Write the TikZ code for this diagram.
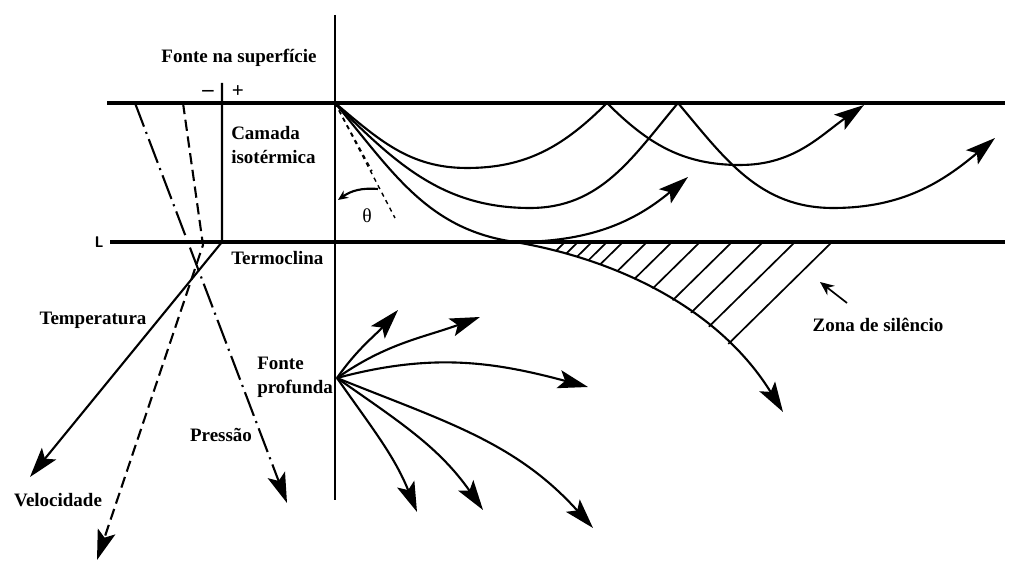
\documentclass[tikz,border=0pt]{standalone}
\usepackage{fontspec}
\setmainfont{Liberation Serif}
\usepackage{tikz}
\usetikzlibrary{arrows.meta,positioning}

\begin{document}
\begin{tikzpicture}[x=0.025cm, y=0.025cm,
  lbl/.style={font=\bfseries\fontsize{13.5}{17}\selectfont, inner sep=0pt},
  bnd/.style={line width=2.4pt},
  ray/.style={line width=1.5pt},
  ar/.style={ray, -{Stealth[length=7.5mm, width=4.6mm, inset=1.6mm]}},
  temp/.style={ar},
  pres/.style={ar, dash pattern=on 18pt off 4pt on 1.5pt off 4pt},
  vel/.style={ar, dash pattern=on 8pt off 4pt},
  hatch/.style={line width=1.2pt}
]
\useasboundingbox (0,0) rectangle (1011,563);

% axis and the two layer lines
\coordinate (axtop) at (335,548);
\coordinate (axbot) at (335,63);
\coordinate (s0) at (107,460);
\coordinate (s1) at (1005,460);
\coordinate (t0) at (110,321);
\coordinate (t1) at (1005,321);
\draw[ray] (axtop) -- (axbot);
\draw[bnd] (s0) -- (s1);
\draw[bnd] (t0) -- (t1);
\node[lbl, font=\bfseries\sffamily\fontsize{11}{13}\selectfont] (lmark) at (99,321) {L};

% profiles on the left
\coordinate (tmptop) at (222,480);
\coordinate (tmpknee) at (222,321);
\coordinate (tmptip) at (30,86);
\coordinate (prtop) at (135,460);
\coordinate (prtip) at (287,60);
\coordinate (veltop) at (183,460);
\coordinate (velknee) at (203,318);
\coordinate (veltip) at (97,3);
\draw[temp] (tmptop) -- (tmpknee) -- (tmptip);
\draw[pres] (prtop) -- (prtip);
\draw[vel] (veltop) -- (velknee) -- (veltip);
\node[lbl, font=\bfseries\fontsize{16}{18}\selectfont] (minus) at (208,470) {\textendash};
\node[lbl, font=\bfseries\fontsize{15}{18}\selectfont] (plus) at (238,471) {+};

% rays from the surface source
\coordinate (src) at (335,460);
\coordinate (a1) at (467,395);
\coordinate (a2) at (607,460);
\coordinate (a3) at (740,398);
\coordinate (a4) at (864,458);
\coordinate (b1) at (530,355);
\coordinate (b2) at (678,460);
\coordinate (b3) at (833,355);
\coordinate (b4) at (995,425);
\coordinate (c1) at (515,321);
\coordinate (c2) at (688,386);
\coordinate (c3) at (783,151);
\draw[ray] (src) to[out=-40, in=180] (a1) to[out=0, in=-135] (a2)
  to[out=-45, in=180] (a3);
\draw[ar] (a3) to[out=0, in=-145] (a4);
\draw[ray] (src) to[out=-45, in=180] (b1) to[out=0, in=-130] (b2)
  to[out=-50, in=180] (b3);
\draw[ar] (b3) to[out=0, in=-140] (b4);
\draw[ray] (src) to[out=-50, in=172] (c1);
\draw[ar] (c1) to[out=0, in=-140] (c2);
\draw[ar] (c1) .. controls (620,303) and (720,253) .. (c3);

% shadow zone
\begin{scope}
  \clip (c1) .. controls (620,303) and (720,253) .. (c3) -- (1000,151) -- (1000,321) -- cycle;
  \foreach \x in {565,578,592,607,623,647,672,700,732,763,795,832}
    \draw[hatch] (\x,321) -- ++(-120,-118);
\end{scope}
\node[lbl] (zona) at (878,238) {Zona de silêncio};
\coordinate (zfrom) at (847,260);
\coordinate (zto) at (820,281);
\draw[ray, line width=1.2pt, -{Stealth[length=3.5mm, width=3mm]}] (zfrom) -- (zto);

% angle theta
\coordinate (th1) at (395,345);
\coordinate (th2) at (372,392);
\draw[ray, line width=1pt, dashed] (src) -- (th1);
\draw[ray, line width=1pt, dashed] (src) -- (th2);
\coordinate (tha) at (378,374);
\coordinate (thb) at (338,363);
\draw[ray, -{Stealth[length=2.5mm, width=2.2mm]}] (tha) to[bend right=20] (thb);
\node[font=\fontsize{14}{16}\selectfont, inner sep=0pt] (theta) at (367,347) {θ};

% rays from the deep source
\coordinate (deep) at (337,185);
\coordinate (d1) at (398,253);
\coordinate (d2) at (480,246);
\coordinate (d3) at (588,176);
\coordinate (d4) at (417,51);
\coordinate (d5) at (483,53);
\coordinate (d6) at (593,35);
\draw[ar] (deep) to[out=55, in=-132] (d1);
\draw[ar] (deep) to[out=35, in=-160] (d2);
\draw[ar] (deep) to[out=15, in=165] (d3);
\draw[ar] (deep) to[out=-55, in=112] (d4);
\draw[ar] (deep) to[out=-35, in=125] (d5);
\draw[ar] (deep) to[out=-22, in=132] (d6);

% labels
\node[lbl] (fsup) at (239,505) {Fonte na superfície};
\node[lbl, anchor=west, align=left] (camada) at (231,418) {Camada\\isotérmica};
\node[lbl, anchor=west] (termo) at (231,305) {Termoclina};
\node[lbl] (temptxt) at (93,243) {Temperatura};
\node[lbl] (veltxt) at (58,63) {Velocidade};
\node[lbl] (prtxt) at (221,128) {Pressão};
\node[lbl, anchor=west, align=left] (fprof) at (257,186) {Fonte\\profunda};
\end{tikzpicture}
\end{document}
